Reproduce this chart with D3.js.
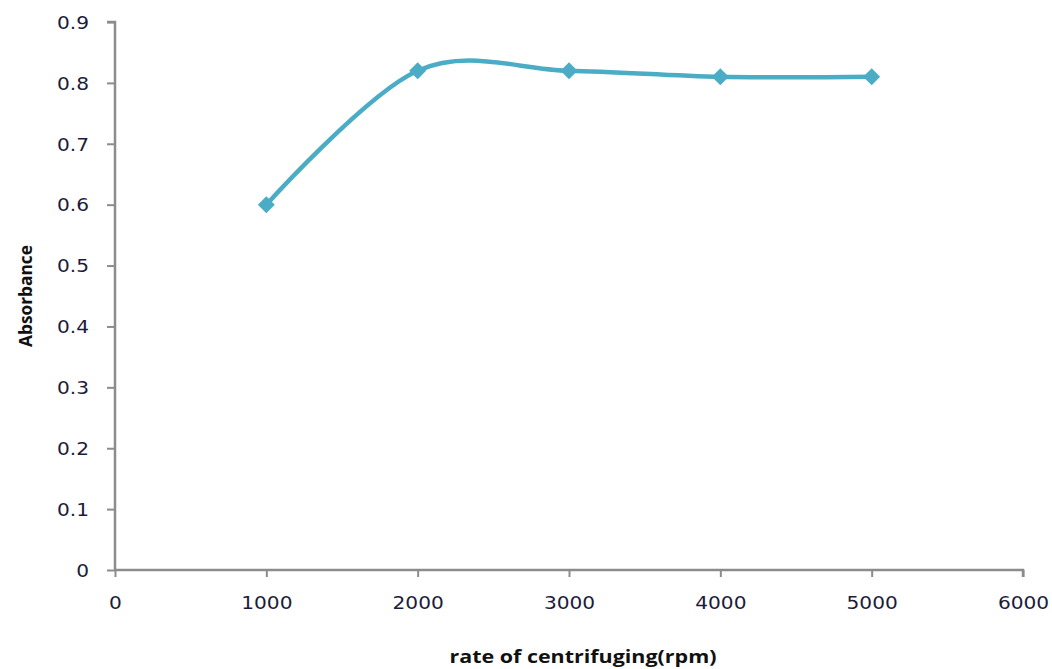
<!DOCTYPE html>
<html>
<head>
<meta charset="utf-8">
<script src="https://cdn.jsdelivr.net/npm/d3@7"></script>
<style>
  html,body{margin:0;padding:0;background:#fff;}
  svg{display:block;}
  .tick text{font-family:"DejaVu Sans",Verdana,sans-serif;font-size:17.5px;fill:#1c1c3a;}
  .ttl{font-family:"Open Sans","Liberation Sans",sans-serif;font-weight:700;font-size:17.5px;fill:#111;}
</style>
</head>
<body>
<div id="chart"></div>
<script>
const rpm=[1000,2000,3000,4000,5000];
const absorbance=[0.60,0.82,0.82,0.81,0.81];
const xTicks=[0,1000,2000,3000,4000,5000,6000];
const yTicks=[0,0.1,0.2,0.3,0.4,0.5,0.6,0.7,0.8,0.9];

const W=1052,H=669;
const svg=d3.select('#chart').append('svg').attr('width',W).attr('height',H);
const x=d3.scaleLinear().domain([0,6000]).range([115,1023]);
const y=d3.scaleLinear().domain([0,0.9]).range([570,22]);
const axisCol='#8c8c8c';
const stretch=1.15; // source text looks widened

// y axis
const gy=svg.append('g').attr('transform',`translate(${x(0)},0)`)
  .call(d3.axisLeft(y).tickValues(yTicks).tickSize(8).tickPadding(18).tickFormat(d=>d===0?'0':d3.format('.1f')(d)));
gy.select('.domain').attr('stroke',axisCol).attr('stroke-width',2.5).attr('d',`M-8,${y(0.9)}H0V${y(0)}`);
gy.selectAll('.tick line').attr('stroke',axisCol).attr('stroke-width',2);
gy.selectAll('.tick text').attr('dy','0.36em');

// x axis
const gx=svg.append('g').attr('transform',`translate(0,${y(0)})`)
  .call(d3.axisBottom(x).tickValues(xTicks).tickSize(7).tickPadding(20).tickFormat(d3.format('d')));
gx.select('.domain').attr('stroke',axisCol).attr('stroke-width',2.5).attr('d',`M${x(0)},0H${x(6000)}V7`);
gx.selectAll('.tick line').attr('stroke',axisCol).attr('stroke-width',2);

svg.selectAll('.tick text').each(function(){
  const w=this.getComputedTextLength();
  d3.select(this).attr('textLength',w*stretch).attr('lengthAdjust','spacingAndGlyphs');
});

// titles
svg.append('text').attr('class','ttl').attr('x',583).attr('y',663).attr('text-anchor','middle')
  .attr('textLength',267).attr('lengthAdjust','spacingAndGlyphs').text('rate of centrifuging(rpm)');
svg.append('text').attr('class','ttl').attr('transform','translate(32,296) rotate(-90)').attr('text-anchor','middle')
  .attr('textLength',102).attr('lengthAdjust','spacingAndGlyphs').text('Absorbance');

// line
const pts=rpm.map((r,i)=>[r,absorbance[i]]);
const line=d3.line().x(d=>x(d[0])).y(d=>y(d[1])).curve(d3.curveCardinal.tension(0));
svg.append('path').datum(pts).attr('d',line).attr('fill','none').attr('stroke','#4bacc6').attr('stroke-width',4.5);

svg.append('g').selectAll('path').data(pts).join('path')
  .attr('transform',d=>`translate(${x(d[0])},${y(d[1])}) rotate(45)`)
  .attr('d','M-6,-6H6V6H-6Z')
  .attr('fill','#4bacc6');
</script>
</body>
</html>
